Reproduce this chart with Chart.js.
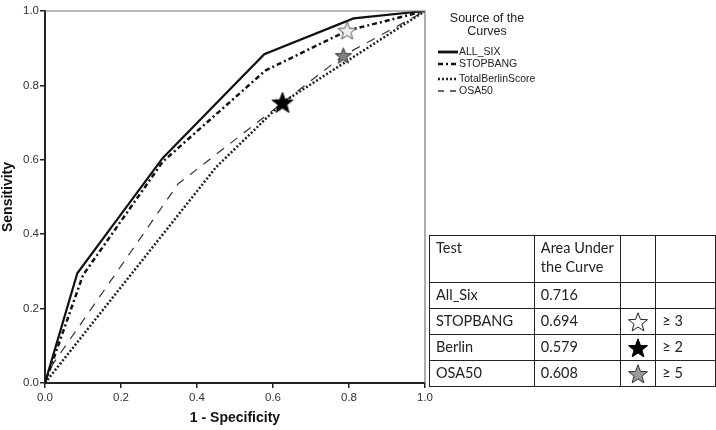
<!DOCTYPE html>
<html>
<head>
<meta charset="utf-8">
<script src="https://cdn.jsdelivr.net/npm/chart.js@4.4.0/dist/chart.umd.min.js"></script>
<style>
body { margin: 0; background: #fff; }
#wrap { position: relative; width: 716px; height: 430px; }
#roc { position: absolute; left: 0; top: 0; }
#auc {
    position: absolute; left: 429px; top: 235px;
    border-collapse: collapse; table-layout: fixed;
    font-family: Lato, "Noto Sans", sans-serif; font-size: 14.5px; color: #222;
}
#auc td { border: 1px solid #222; padding: 0 6px; height: 25px; line-height: 18.5px; vertical-align: middle; }
#auc tr.head td { height: 43px; vertical-align: top; padding-top: 3px; }
#auc td.star { text-align: center; padding: 0; }
#auc td.star canvas { display: block; margin: 0 auto; }
</style>
</head>
<body>
<div id="wrap">
    <canvas id="roc" width="716" height="430"></canvas>
    <table id="auc"></table>
</div>
<script>
// ROC curve points (1 - specificity, sensitivity)
const fprAllSix   = [0, 0.085, 0.31, 0.577, 0.812, 1];
const tprAllSix   = [0, 0.295, 0.605, 0.884, 0.980, 1];
const fprStopbang = [0, 0.100, 0.31, 0.580, 0.795, 1];
const tprStopbang = [0, 0.290, 0.595, 0.840, 0.947, 1];
const fprBerlin   = [0, 0.450, 0.625, 1];
const tprBerlin   = [0, 0.580, 0.754, 1];
const fprOsa50    = [0, 0.020, 0.350, 0.785, 1];
const tprOsa50    = [0, 0.050, 0.535, 0.880, 1];

const curveNames = ['ALL_SIX', 'STOPBANG', 'TotalBerlinScore', 'OSA50'];

// cut-off markers
const starNames = ['STOPBANG ≥ 3', 'Berlin ≥ 2', 'OSA50 ≥ 5'];
const starFpr   = [0.795, 0.625, 0.785];
const starTpr   = [0.947, 0.754, 0.880];

// table
const tableTests   = ['All_Six', 'STOPBANG', 'Berlin', 'OSA50'];
const tableAuc     = ['0.716', '0.694', '0.579', '0.608'];
const tableCutoffs = ['', '≥ 3', '≥ 2', '≥ 5'];
const tableStars   = [null, 'white', 'black', 'gray'];

const axisTicks = [0, 0.2, 0.4, 0.6, 0.8, 1.0];

function makeStar(size, fill, stroke) {
    const c = document.createElement('canvas');
    c.width = size; c.height = size;
    const g = c.getContext('2d');
    const R = size / 2 - 1, r = R * 0.42, cx = size / 2, cy = size / 2 + R * 0.08;
    g.beginPath();
    for (let i = 0; i < 10; i++) {
        const a = -Math.PI / 2 + i * Math.PI / 5;
        const rad = i % 2 ? r : R;
        g.lineTo(cx + rad * Math.cos(a), cy + rad * Math.sin(a));
    }
    g.closePath();
    g.fillStyle = fill; g.fill();
    g.strokeStyle = stroke; g.lineWidth = 1; g.stroke();
    return c;
}

const pts = (xs, ys) => xs.map((x, i) => ({ x: x, y: ys[i] }));

const plotStars = [
    makeStar(21, '#f2f2f2', '#555'),
    makeStar(24, '#000', '#000'),
    makeStar(19, '#808080', '#333')
];

const curveStyles = [
    { borderColor: '#111', borderWidth: 2.2, borderDash: [] },
    { borderColor: '#111', borderWidth: 2.5, borderDash: [5, 3, 2, 3] },
    { borderColor: '#222', borderWidth: 2.5, borderDash: [2, 2] },
    { borderColor: '#333', borderWidth: 1.2, borderDash: [9, 8] }
];
const curveData = [
    pts(fprAllSix, tprAllSix),
    pts(fprStopbang, tprStopbang),
    pts(fprBerlin, tprBerlin),
    pts(fprOsa50, tprOsa50)
];

const datasets = curveNames.map((n, i) => Object.assign({
    label: n, data: curveData[i], pointRadius: 0, tension: 0, fill: false, borderCapStyle: 'butt'
}, curveStyles[i]));

starNames.forEach((n, i) => {
    datasets.push({
        label: n, data: [{ x: starFpr[i], y: starTpr[i] }],
        showLine: false, pointStyle: plotStars[i], pointRadius: 10, order: -1
    });
});

// frame + legend
const extras = {
    id: 'extras',
    afterDraw(chart) {
        const ctx = chart.ctx, a = chart.chartArea;
        ctx.save();
        ctx.strokeStyle = '#777'; ctx.lineWidth = 1.2; ctx.setLineDash([]);
        ctx.beginPath();
        ctx.moveTo(a.left, a.top); ctx.lineTo(a.right, a.top); ctx.lineTo(a.right, a.bottom);
        ctx.stroke();

        ctx.fillStyle = '#222';
        ctx.textAlign = 'center'; ctx.textBaseline = 'middle';
        ctx.font = '12.5px "Liberation Sans", Arial, sans-serif';
        ctx.fillText('Source of the', 487, 19);
        ctx.fillText('Curves', 487, 32);

        const ys = [52, 64, 79, 91];
        ctx.font = '10.5px "Liberation Sans", Arial, sans-serif';
        ctx.textAlign = 'left';
        curveNames.forEach((n, i) => {
            const s = curveStyles[i];
            ctx.strokeStyle = s.borderColor;
            ctx.lineWidth = i === 0 ? 2.8 : (i === 3 ? 1.5 : s.borderWidth);
            ctx.setLineDash(i === 3 ? [6, 6] : s.borderDash);
            ctx.beginPath();
            ctx.moveTo(438, ys[i]); ctx.lineTo(458, ys[i]);
            ctx.stroke();
            ctx.fillText(n, 459, ys[i] + 0.5);
        });
        ctx.restore();
    }
};

function axis(title, isX) {
    return {
        type: 'linear', min: 0, max: 1,
        afterBuildTicks: s => { s.ticks = axisTicks.map(v => ({ value: v })); },
        border: { display: true, color: '#222', width: 2 },
        grid: { display: true, drawOnChartArea: false, drawTicks: true, tickLength: 5, color: '#222', lineWidth: 1.5 },
        ticks: {
            font: { family: '"Liberation Sans", Arial, sans-serif', size: 11.5 },
            color: '#333', padding: isX ? 3 : 1,
            callback: v => v.toFixed(1)
        },
        title: {
            display: true, text: title, color: '#111',
            font: { family: '"Liberation Sans", Arial, sans-serif', size: 14, weight: 'bold' },
            padding: isX ? { top: 0, bottom: 3 } : { top: 0, bottom: 0 }
        },
        afterFit: s => {
            if (isX) { s.height = 47; } else { s.width = 45; s.paddingTop = 0; s.paddingBottom = 0; }
        }
    };
}

new Chart(document.getElementById('roc').getContext('2d'), {
    type: 'line',
    data: { datasets: datasets },
    options: {
        responsive: false, animation: false,
        layout: { padding: { top: 4, right: 291, left: 0, bottom: 0 } },
        plugins: { legend: { display: false }, tooltip: { enabled: false } },
        scales: { x: axis('1 - Specificity', true), y: axis('Sensitivity', false) }
    },
    plugins: [extras]
});

// AUC table
const tbl = document.getElementById('auc');
const cg = document.createElement('colgroup');
[105, 87, 35, 60].forEach(w => { const c = document.createElement('col'); c.style.width = w + 'px'; cg.appendChild(c); });
tbl.appendChild(cg);
const head = tbl.insertRow();
head.className = 'head';
['Test', 'Area Under<br>the Curve', '', ''].forEach(t => { head.insertCell().innerHTML = t; });
const starFill = { white: ['#fff', '#222'], black: ['#000', '#000'], gray: ['#999', '#333'] };
tableTests.forEach((t, i) => {
    const r = tbl.insertRow();
    r.insertCell().textContent = t;
    r.insertCell().textContent = tableAuc[i];
    const sc = r.insertCell();
    sc.className = 'star';
    if (tableStars[i]) sc.appendChild(makeStar(22, starFill[tableStars[i]][0], starFill[tableStars[i]][1]));
    r.insertCell().textContent = tableCutoffs[i];
});
</script>
</body>
</html>
